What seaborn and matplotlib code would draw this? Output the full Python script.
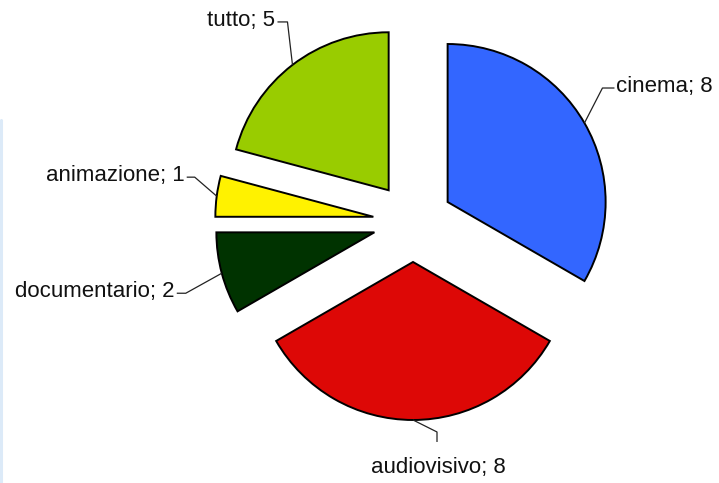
import numpy as np
import matplotlib
matplotlib.use("Agg")
import matplotlib.pyplot as plt
import seaborn as sns
from matplotlib.lines import Line2D

categories = ["cinema", "audiovisivo", "documentario", "animazione", "tutto"]
values = [8, 8, 2, 1, 5]
colors = ["#3366FF", "#DD0806", "#003300", "#FFF200", "#99CC00"]

sns.set_theme(style="white")
plt.rcParams["font.family"] = ["Liberation Sans", "DejaVu Sans"]

W, H, DPI = 719, 483, 100
fig = plt.figure(figsize=(W / DPI, H / DPI), dpi=DPI, facecolor="white")
ax = fig.add_axes([0, 0, 1, 1])
ax.set_facecolor("white")

wedges, _ = ax.pie(
    values,
    colors=colors,
    startangle=90,
    counterclock=False,
    explode=[0.253] * len(values),
    radius=1.0,
    wedgeprops=dict(edgecolor="black", linewidth=1.4),
    normalize=True,
)

# one data unit equals the pie radius in pixels
R_PX = 158.0
cx, cy = 413.0, 222.0
ax.set_xlim(-cx / R_PX, (W - cx) / R_PX)
ax.set_ylim(-(H - cy) / R_PX, cy / R_PX)
ax.set_aspect("equal", adjustable="datalim")
ax.axis("off")

# leader layout in pixels (x right, y down): elbow, end, text pos, alignment
leaders = {
    "cinema": ((18, -35), (30, -35), (32, -37), "left"),
    "audiovisivo": ((24, 12), (24, 22), (25, 48), "center"),
    "documentario": ((-36, 20), (-45, 20), (-47, 18), "right"),
    "animazione": ((-22, -19), (-30, -19), (-32, -21), "right"),
    "tutto": ((-5, -43), (-15, -43), (-17, -44), "right"),
}

for w, name, val in zip(wedges, categories, values):
    mid = np.deg2rad((w.theta1 + w.theta2) / 2.0)
    ax_x = w.center[0] + w.r * np.cos(mid)
    ax_y = w.center[1] + w.r * np.sin(mid)
    elbow, end, tpos, ha = leaders[name]
    pts = [(ax_x, ax_y),
           (ax_x + elbow[0] / R_PX, ax_y - elbow[1] / R_PX),
           (ax_x + end[0] / R_PX, ax_y - end[1] / R_PX)]
    xs, ys = zip(*pts)
    ax.plot(xs, ys, color="#222222", linewidth=0.9, solid_capstyle="butt")
    ax.text(ax_x + tpos[0] / R_PX, ax_y - tpos[1] / R_PX, f"{name}; {val}",
            ha=ha, va="center", fontsize=16, color="#111111")

# thin pale border on the left side
fig.add_artist(Line2D([1.0 / W, 1.0 / W], [0, 1 - 120.0 / H],
                      transform=fig.transFigure, color="#DCEAF8", linewidth=2.2))

fig.savefig("out.png", dpi=DPI, facecolor="white")
